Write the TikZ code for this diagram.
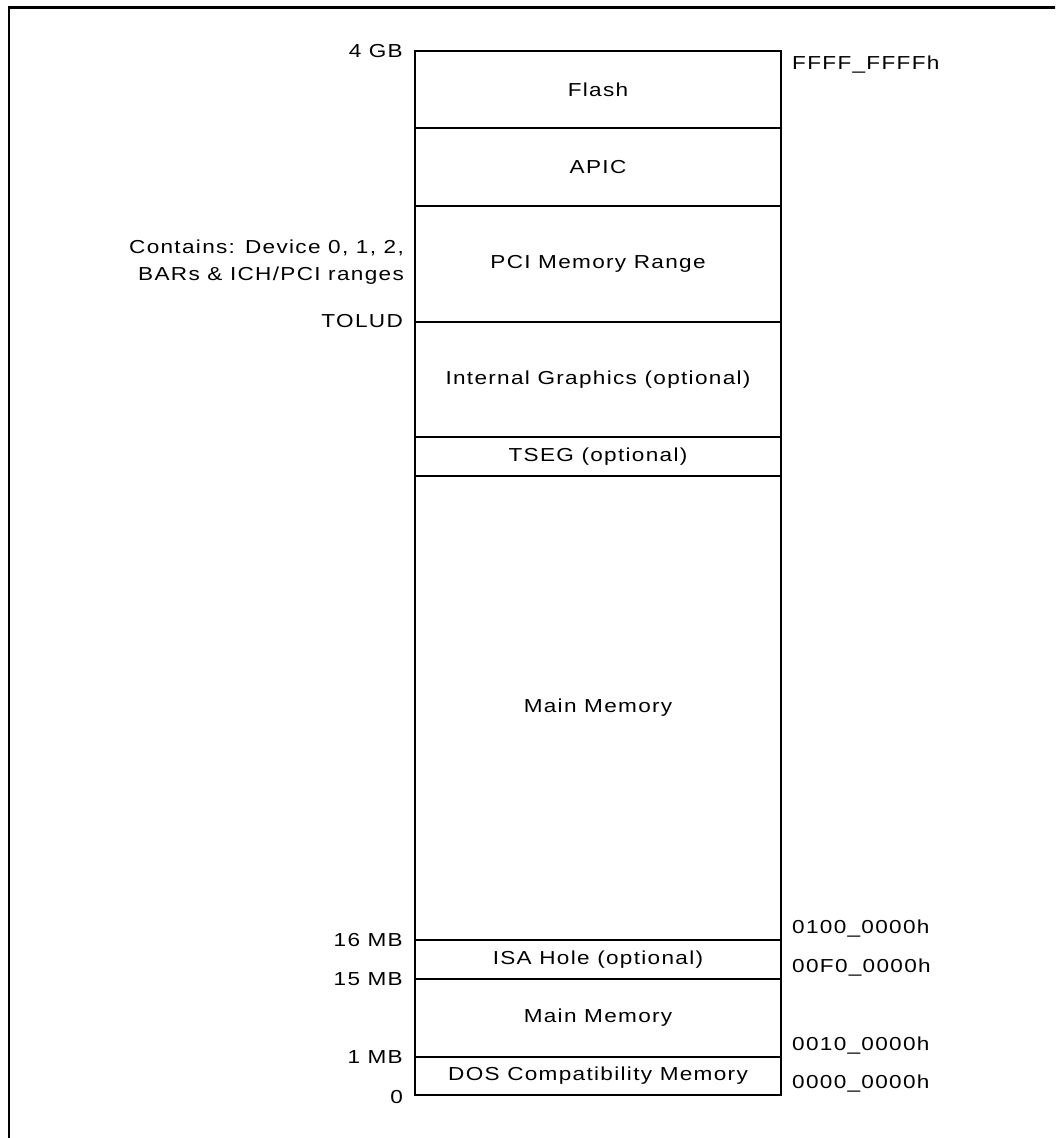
\documentclass[tikz,border=0pt]{standalone}
\usepackage{fontspec}
\setmainfont{Liberation Sans}[FakeStretch=1.2, LetterSpace=7]
\usetikzlibrary{positioning}

\begin{document}
\begin{tikzpicture}[
    x=1pt, y=-1pt,
    every node/.style={font=\fontsize{18.8}{27}\selectfont},
    reg/.style={rectangle, draw, line width=2.4pt, minimum width=366pt,
                inner sep=0pt, outer sep=0pt, align=center},
    lbl/.style={inner sep=0pt, align=right},
]
    \useasboundingbox (0,0) rectangle (1055,1138);
    %% outer frame, cut off at right and bottom
    \begin{scope}
        \clip (0,0) rectangle (1055,1138);
        \draw[line width=2.6pt] (9,1160) -- (9,7.5) -- (1080,7.5);
    \end{scope}
    %% memory regions, top to bottom
    \node[reg, minimum height=77pt, anchor=north west] (flash) at (415,51) {Flash};
    \node[reg, minimum height=78pt, below=0pt of flash] (apic) {APIC};
    \node[reg, minimum height=116pt, below=0pt of apic] (pci) {PCI Memory Range};
    \node[reg, minimum height=115pt, below=0pt of pci] (igd) {Internal Graphics (optional)};
    \node[reg, minimum height=39pt, below=0pt of igd] (tseg) {TSEG (optional)};
    \node[reg, minimum height=464pt, below=0pt of tseg] (main) {Main Memory};
    \node[reg, minimum height=39pt, below=0pt of main] (isa) {ISA Hole (optional)};
    \node[reg, minimum height=78pt, below=0pt of isa] (low) {Main Memory};
    \node[reg, minimum height=38pt, below=0pt of low] (dos) {DOS Compatibility Memory};
    %% sizes on the left
    \node[lbl, anchor=base east] (gb4) at ([xshift=-12pt, yshift=-6pt]flash.north west) {4 GB};
    \node[lbl, anchor=east] (pcinote) at ([xshift=-11pt, yshift=-56.5pt]pci.north west)
        {Contains: Device 0, 1, 2,\\BARs \& ICH/PCI ranges};
    \node[lbl, anchor=base east] (tolud) at ([xshift=-12pt, yshift=-5pt]igd.north west) {TOLUD};
    \node[lbl, anchor=base east] (mb16) at ([xshift=-12pt, yshift=-6.5pt]isa.north west) {16 MB};
    \node[lbl, anchor=base east] (mb15) at ([xshift=-12pt, yshift=-6.5pt]low.north west) {15 MB};
    \node[lbl, anchor=base east] (mb1) at ([xshift=-12pt, yshift=-6pt]dos.north west) {1 MB};
    \node[lbl, anchor=base east] (zero) at ([xshift=-12pt, yshift=-8pt]dos.south west) {0};
    %% addresses on the right
    \node[lbl, anchor=base west] (atop) at ([xshift=11pt, yshift=-18pt]flash.north east) {FFFF\_FFFFh};
    \node[lbl, anchor=base west] (a16) at ([xshift=11pt, yshift=7pt]isa.north east) {0100\_0000h};
    \node[lbl, anchor=base west] (a15) at ([xshift=11pt, yshift=7pt]low.north east) {00F0\_0000h};
    \node[lbl, anchor=base west] (a1) at ([xshift=11pt, yshift=7pt]dos.north east) {0010\_0000h};
    \node[lbl, anchor=base west] (a0) at ([xshift=11pt, yshift=7pt]dos.south east) {0000\_0000h};
\end{tikzpicture}
\end{document}
